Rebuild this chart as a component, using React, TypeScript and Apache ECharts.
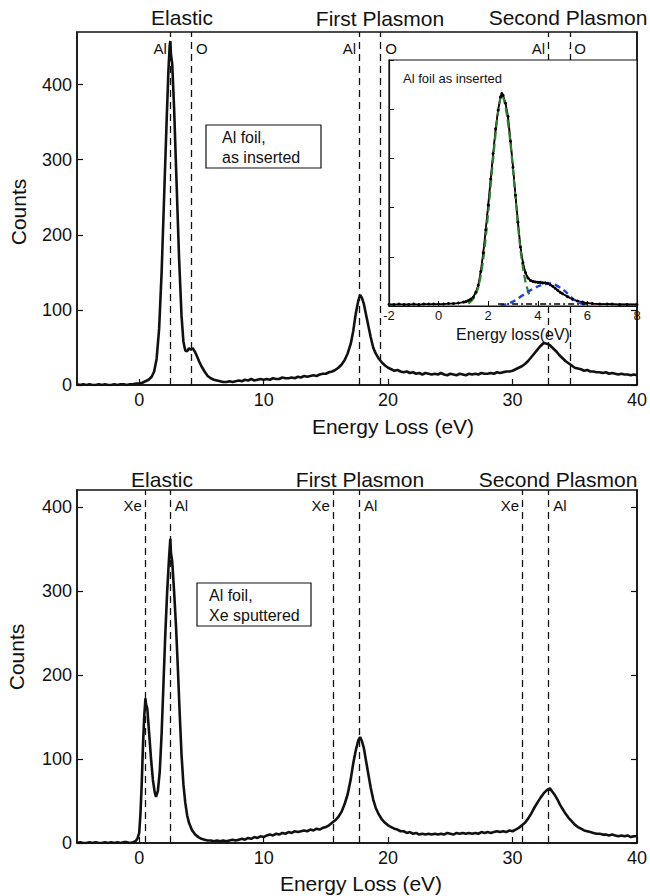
import React, { useEffect, useRef } from 'react';
import * as echarts from 'echarts';

// ---------- data ----------
const topSpectrum: [number, number][] = [
  [-5, 1], [-4.75, 0], [-4.5, 1], [-4.25, 0], [-4, 1], [-3.75, 0], [-3.5, 0], [-3.25, 1], [-3, 0], [-2.75, 1],
  [-2.5, 0], [-2.25, 0], [-2, 1], [-1.75, 0], [-1.5, 1], [-1.25, 1], [-1, 0], [-0.75, 1], [-0.5, 1], [-0.25, 2],
  [0, 2], [0.25, 3], [0.5, 5], [0.75, 7], [1.0, 11], [1.2, 18], [1.4, 35], [1.6, 75], [1.8, 150], [2.0, 250],
  [2.2, 350], [2.35, 420], [2.45, 452], [2.5, 458], [2.55, 440], [2.65, 428], [2.8, 370], [3.0, 270], [3.2, 170],
  [3.4, 92], [3.55, 58], [3.7, 46], [3.85, 45], [4.0, 49], [4.15, 47], [4.3, 49], [4.45, 45], [4.6, 40], [4.8, 32],
  [5.0, 25], [5.25, 18], [5.5, 12], [5.75, 9], [6.0, 7], [6.25, 6], [6.5, 5], [6.75, 4], [7, 4], [7.25, 5], [7.5, 4],
  [7.75, 5], [8, 6], [8.25, 5], [8.5, 7], [8.75, 6], [9, 8], [9.25, 6], [9.5, 7], [9.75, 8], [10, 7], [10.25, 8],
  [10.5, 7], [10.75, 9], [11, 8], [11.25, 8], [11.5, 10], [11.75, 9], [12, 9], [12.25, 10], [12.5, 9], [12.75, 11],
  [13, 10], [13.25, 12], [13.5, 11], [13.75, 12], [14, 13], [14.25, 12], [14.5, 14], [14.75, 15], [15, 15],
  [15.25, 17], [15.5, 18], [15.75, 20], [16, 23], [16.25, 27], [16.5, 33], [16.75, 42], [17, 55], [17.2, 72],
  [17.4, 95], [17.6, 112], [17.75, 120], [17.9, 116], [18.05, 108], [18.2, 96], [18.4, 80], [18.6, 64], [18.8, 50],
  [19, 42], [19.25, 35], [19.5, 30], [19.75, 26], [20, 23], [20.25, 21], [20.5, 19], [20.75, 20], [21, 18],
  [21.25, 17], [21.5, 18], [21.75, 16], [22, 17], [22.25, 15], [22.5, 16], [22.75, 14], [23, 16], [23.25, 15],
  [23.5, 14], [23.75, 15], [24, 14], [24.25, 16], [24.5, 14], [24.75, 13], [25, 15], [25.25, 14], [25.5, 13],
  [25.75, 15], [26, 14], [26.25, 13], [26.5, 15], [26.75, 14], [27, 15], [27.25, 14], [27.5, 16], [27.75, 15],
  [28, 15], [28.25, 16], [28.5, 15], [28.75, 17], [29, 16], [29.25, 17], [29.5, 18], [29.75, 18], [30, 19],
  [30.25, 21], [30.5, 23], [30.75, 25], [31, 28], [31.25, 32], [31.5, 37], [31.75, 42], [32, 47], [32.25, 52],
  [32.5, 56], [32.75, 55], [33, 53], [33.25, 49], [33.5, 45], [33.75, 40], [34, 36], [34.25, 32], [34.5, 29],
  [34.75, 26], [35, 23], [35.25, 22], [35.5, 21], [35.75, 19], [36, 20], [36.25, 18], [36.5, 18], [36.75, 17],
  [37, 17], [37.25, 16], [37.5, 17], [37.75, 15], [38, 16], [38.25, 15], [38.5, 14], [38.75, 15], [39, 14],
  [39.25, 14], [39.5, 13], [39.75, 14], [40, 13],
];

const bottomSpectrum: [number, number][] = [
  [-5, 0], [-4.75, 1], [-4.5, 0], [-4.25, 0], [-4, 1], [-3.75, 0], [-3.5, 1], [-3.25, 0], [-3, 0], [-2.75, 1],
  [-2.5, 0], [-2.25, 1], [-2, 0], [-1.75, 1], [-1.5, 0], [-1.25, 1], [-1, 1], [-0.75, 0], [-0.5, 1], [-0.3, 2],
  [-0.15, 5], [0, 12], [0.1, 35], [0.2, 70], [0.3, 115], [0.4, 150], [0.5, 172], [0.55, 165], [0.65, 160],
  [0.8, 130], [0.95, 100], [1.1, 75], [1.25, 60], [1.35, 55], [1.5, 62], [1.65, 85], [1.8, 130], [1.95, 190],
  [2.1, 250], [2.25, 300], [2.4, 340], [2.5, 362], [2.55, 345], [2.65, 335], [2.8, 300], [2.95, 260], [3.1, 210],
  [3.25, 155], [3.4, 105], [3.55, 70], [3.7, 48], [3.85, 33], [4.0, 24], [4.25, 15], [4.5, 10], [4.75, 7], [5, 5],
  [5.25, 4], [5.5, 3], [5.75, 3], [6, 2], [6.25, 3], [6.5, 2], [6.75, 3], [7, 2], [7.25, 3], [7.5, 4], [7.75, 3],
  [8, 4], [8.25, 5], [8.5, 4], [8.75, 6], [9, 5], [9.25, 7], [9.5, 6], [9.75, 8], [10, 7], [10.25, 9], [10.5, 10],
  [10.75, 9], [11, 11], [11.25, 10], [11.5, 12], [11.75, 11], [12, 13], [12.25, 12], [12.5, 14], [12.75, 13],
  [13, 14], [13.25, 15], [13.5, 14], [13.75, 16], [14, 15], [14.25, 17], [14.5, 16], [14.75, 18], [15, 19],
  [15.25, 21], [15.5, 24], [15.75, 27], [16, 31], [16.25, 37], [16.5, 46], [16.75, 58], [17, 76], [17.2, 95],
  [17.4, 110], [17.6, 122], [17.75, 126], [17.9, 121], [18.05, 113], [18.2, 100], [18.4, 83], [18.6, 66],
  [18.8, 52], [19, 42], [19.25, 34], [19.5, 28], [19.75, 24], [20, 21], [20.25, 19], [20.5, 17], [20.75, 16],
  [21, 14], [21.25, 14], [21.5, 12], [21.75, 13], [22, 11], [22.25, 12], [22.5, 10], [22.75, 11], [23, 10],
  [23.25, 11], [23.5, 10], [23.75, 11], [24, 10], [24.25, 11], [24.5, 10], [24.75, 12], [25, 11], [25.25, 10],
  [25.5, 12], [25.75, 11], [26, 12], [26.25, 11], [26.5, 12], [26.75, 11], [27, 12], [27.25, 11], [27.5, 13],
  [27.75, 12], [28, 13], [28.25, 12], [28.5, 13], [28.75, 14], [29, 13], [29.25, 14], [29.5, 13], [29.75, 15],
  [30, 14], [30.25, 16], [30.5, 18], [30.75, 21], [31, 24], [31.25, 29], [31.5, 35], [31.75, 42], [32, 48],
  [32.25, 54], [32.5, 59], [32.75, 63], [33, 65], [33.2, 61], [33.4, 57], [33.6, 52], [33.8, 46], [34, 41],
  [34.25, 35], [34.5, 30], [34.75, 26], [35, 22], [35.25, 19], [35.5, 17], [35.75, 15], [36, 14], [36.25, 13],
  [36.5, 12], [36.75, 11], [37, 11], [37.25, 10], [37.5, 10], [37.75, 9], [38, 10], [38.25, 9], [38.5, 8],
  [38.75, 9], [39, 8], [39.25, 9], [39.5, 7], [39.75, 8], [40, 8],
];

// inset (Al foil as inserted, elastic region)
const insetData: [number, number][] = [
  [-2, 3], [-1.8, 3], [-1.6, 4], [-1.4, 3], [-1.2, 3], [-1, 4], [-0.8, 3], [-0.6, 4], [-0.4, 4], [-0.2, 4],
  [0, 4], [0.2, 4], [0.4, 5], [0.6, 5], [0.8, 6], [1.0, 8], [1.1, 9], [1.2, 11], [1.3, 14], [1.4, 18], [1.5, 28],
  [1.6, 42], [1.7, 70], [1.8, 108], [1.9, 155], [2.0, 205], [2.1, 258], [2.2, 310], [2.3, 360], [2.4, 398],
  [2.5, 425], [2.55, 432], [2.6, 428], [2.7, 412], [2.8, 385], [2.9, 335], [3.0, 282], [3.1, 225], [3.2, 170],
  [3.3, 120], [3.4, 88], [3.5, 68], [3.6, 57], [3.7, 52], [3.8, 50], [3.9, 49], [4.0, 48], [4.1, 48], [4.2, 47],
  [4.3, 47], [4.4, 46], [4.5, 43], [4.6, 40], [4.7, 36], [4.8, 32], [4.9, 28], [5.0, 25], [5.2, 19], [5.4, 14],
  [5.6, 10], [5.8, 8], [6.0, 6], [6.2, 5], [6.5, 4], [6.8, 4], [7.0, 4], [7.3, 3], [7.6, 3], [8.0, 3],
];
const insetFit: [number, number][] = [
  [1.0, 6], [1.2, 10], [1.4, 19], [1.6, 43], [1.8, 107], [2.0, 204], [2.2, 310], [2.4, 398], [2.55, 431],
  [2.7, 411], [2.9, 334], [3.1, 224], [3.3, 121], [3.5, 68], [3.7, 52], [3.9, 49], [4.1, 48], [4.3, 47],
  [4.5, 43], [4.7, 36], [4.9, 28], [5.1, 22], [5.3, 16], [5.5, 12], [5.8, 8], [6.2, 5], [7.0, 4], [8.0, 3],
];
const insetMainPeak: [number, number][] = [
  [1.2, 5], [1.4, 15], [1.6, 38], [1.8, 95], [2.0, 190], [2.2, 300], [2.4, 395], [2.55, 430], [2.7, 405],
  [2.9, 330], [3.1, 220], [3.3, 115], [3.5, 50], [3.7, 16],
];
const insetOxidePeak: [number, number][] = [
  [2.5, 0], [3.0, 9], [3.6, 29], [4.1, 42], [4.5, 46], [5.05, 32], [5.45, 13], [5.9, 2],
];
const insetBackground: [number, number][] = [
  [2.4, 4], [6.2, 4],
];

// reference energies (eV) of the dashed lines
const topLeftLines = [2.5, 17.7, 32.9];   // Al
const topRightLines = [4.2, 19.4, 34.6];  // O
const bottomLeftLines = [0.5, 15.6, 30.8]; // Xe
const bottomRightLines = [2.5, 17.7, 32.9]; // Al

const mainXTicks = [0, 10, 20, 30, 40];
const mainYTicks = [0, 100, 200, 300, 400];

// ---------- styles ----------
const FONT = '"Liberation Sans", Arial, Helvetica, sans-serif';
const INK = '#111111';
const INSET = { x: 389, y: 60, w: 248, h: 246 };

function mainX(gridIndex: number) {
  return {
    type: 'value', gridIndex, min: -5, max: 40,
    axisLine: { show: true, onZero: false, lineStyle: { color: INK, width: 1.5 } },
    axisTick: { show: true, inside: true, length: 6, customValues: mainXTicks, lineStyle: { color: INK, width: 1.2 } },
    axisLabel: { show: true, customValues: mainXTicks, fontSize: 18, color: INK, fontFamily: FONT, margin: 6 },
    splitLine: { show: false },
  };
}
function mainY(gridIndex: number, max: number, right: boolean) {
  return {
    type: 'value', gridIndex, min: 0, max, position: right ? 'right' : 'left',
    axisLine: { show: true, onZero: false, lineStyle: { color: INK, width: 1.5 } },
    axisTick: { show: true, inside: true, length: 6, customValues: mainYTicks, lineStyle: { color: INK, width: 1.2 } },
    axisLabel: { show: !right, customValues: mainYTicks, fontSize: 18, color: INK, fontFamily: FONT, margin: 5 },
    splitLine: { show: false },
  };
}
function refLines(values: number[]) {
  return {
    silent: true,
    z: 1,
    symbol: ['none', 'none'],
    label: { show: false },
    lineStyle: { type: [7, 5], width: 1.3, color: INK },
    data: values.map((v) => ({ xAxis: v })),
  };
}
function labelSeries(xi: number, yi: number, values: number[], name: string, y: number, left: boolean) {
  return {
    type: 'scatter', xAxisIndex: xi, yAxisIndex: yi, silent: true, symbolSize: 1,
    itemStyle: { color: INK, opacity: 1 },
    data: values.map((v) => ({ value: [v, y], name })),
    label: {
      show: true, position: left ? 'left' : 'right', distance: left ? 3 : 4, formatter: '{b}',
      fontSize: 15, color: INK, fontFamily: FONT, opacity: 1,
    },
  };
}
function txt(text: string, x: number, y: number, size: number, align = 'center', extra: any = {}) {
  return {
    type: 'text', x, y, z: 10, ...extra,
    style: { text, fontSize: size, fontFamily: FONT, fill: INK, textAlign: align, textVerticalAlign: 'middle' },
  };
}

export default function App() {
  const ref = useRef<HTMLDivElement>(null);
  useEffect(() => {
    const chart = echarts.init(ref.current!, undefined, { renderer: 'svg' });
    const option: any = {
      animation: false,
      backgroundColor: '#fff',
      grid: [
        { left: 77, top: 32, width: 565, height: 353, show: true, borderColor: INK, borderWidth: 1.5, backgroundColor: 'transparent' },
        { left: 77, top: 490, width: 565, height: 353, show: true, borderColor: INK, borderWidth: 1.5, backgroundColor: 'transparent' },
        { left: INSET.x, top: INSET.y, width: INSET.w, height: INSET.h, show: false },
      ],
      xAxis: [
        mainX(0),
        mainX(1),
        {
          type: 'value', gridIndex: 2, min: -2, max: 8, interval: 2, z: 5,
          axisLine: { show: true, onZero: false, lineStyle: { color: INK, width: 1.2 } },
          axisTick: { show: true, inside: true, length: 5, lineStyle: { color: INK } },
          axisLabel: { fontSize: 13, color: INK, fontFamily: FONT, margin: 3 },
          splitLine: { show: false },
        },
      ],
      yAxis: [
        mainY(0, 470, false),
        mainY(1, 420, false),
        {
          type: 'value', gridIndex: 2, min: 0, max: 500, interval: 100, z: 5,
          axisLine: { show: true, onZero: false, lineStyle: { color: INK, width: 1.2 } },
          axisTick: { show: true, inside: true, length: 5, lineStyle: { color: INK } },
          axisLabel: { show: false },
          splitLine: { show: false },
        },
        mainY(0, 470, true),
        mainY(1, 420, true),
      ],
      series: [
        {
          type: 'line', xAxisIndex: 0, yAxisIndex: 0, data: topSpectrum, showSymbol: false, silent: true,
          lineStyle: { color: INK, width: 2.6 }, markLine: refLines([...topLeftLines, ...topRightLines]),
        },
        labelSeries(0, 0, topLeftLines, 'Al', 448, true),
        labelSeries(0, 0, topRightLines, 'O', 448, false),
        {
          type: 'line', xAxisIndex: 1, yAxisIndex: 1, data: bottomSpectrum, showSymbol: false, silent: true,
          lineStyle: { color: INK, width: 2.6 }, markLine: refLines([...bottomLeftLines, ...bottomRightLines]),
        },
        labelSeries(1, 1, bottomLeftLines, 'Xe', 402, true),
        labelSeries(1, 1, bottomRightLines, 'Al', 402, false),
        // inset
        {
          type: 'line', xAxisIndex: 2, yAxisIndex: 2, data: insetFit, showSymbol: false, silent: true, z: 4,
          smooth: 0.3, lineStyle: { color: '#e8332a', width: 1.3 },
        },
        {
          type: 'line', xAxisIndex: 2, yAxisIndex: 2, data: insetData, showSymbol: false, silent: true, z: 4,
          lineStyle: { color: '#000', width: 1.8 },
        },
        {
          type: 'line', xAxisIndex: 2, yAxisIndex: 2, data: insetMainPeak, showSymbol: false, silent: true, z: 4,
          smooth: 0.3, lineStyle: { color: '#2f7d32', width: 2.2, type: [8, 4] },
        },
        {
          type: 'line', xAxisIndex: 2, yAxisIndex: 2, data: insetOxidePeak, showSymbol: false, silent: true, z: 4,
          smooth: 0.3, lineStyle: { color: '#1d3fe0', width: 2.4, type: [6, 4] },
        },
        {
          type: 'line', xAxisIndex: 2, yAxisIndex: 2, data: insetBackground, showSymbol: false, silent: true, z: 4,
          lineStyle: { color: '#000', width: 1.6, type: [6, 3, 2, 3] },
        },
        {
          type: 'scatter', xAxisIndex: 2, yAxisIndex: 2, data: insetData, silent: true, z: 4,
          symbol: 'circle', symbolSize: 3, itemStyle: { color: '#000', opacity: 1 },
        },
      ],
      graphic: [
        {
          type: 'rect', z: 3, silent: true,
          shape: { x: INSET.x, y: INSET.y, width: INSET.w, height: INSET.h },
          style: { fill: '#fff', stroke: INK, lineWidth: 1.2 },
        },
        txt('Elastic', 182, 17, 21),
        txt('First Plasmon', 380, 18, 21),
        txt('Second Plasmon', 568, 17, 21),
        txt('Elastic', 162, 479, 21),
        txt('First Plasmon', 360, 479, 21),
        txt('Second Plasmon', 558, 479, 21),
        txt('Energy Loss (eV)', 393, 426, 21),
        txt('Energy Loss (eV)', 361, 883, 21),
        txt('Counts', 18, 212, 21, 'center', { rotation: Math.PI / 2 }),
        txt('Counts', 16, 657, 21, 'center', { rotation: Math.PI / 2 }),
        { type: 'rect', z: 5, shape: { x: 206, y: 125, width: 115, height: 43 }, style: { fill: '#fff', stroke: INK, lineWidth: 1.2 } },
        txt('Al foil,', 222, 137, 16, 'left'),
        txt('as inserted', 222, 157, 16, 'left'),
        { type: 'rect', z: 5, shape: { x: 197, y: 583, width: 114, height: 43 }, style: { fill: '#fff', stroke: INK, lineWidth: 1.2 } },
        txt('Al foil,', 209, 595, 16, 'left'),
        txt('Xe sputtered', 209, 615, 16, 'left'),
        txt('Al foil as inserted', 403, 78, 13, 'left'),
        txt('Energy loss(eV)', 513, 334, 16),
      ],
    };
    chart.setOption(option);
    return () => chart.dispose();
  }, []);
  return <div ref={ref} style={{ position: 'fixed', left: 0, top: 0, width: 650, height: 896, background: '#fff' }} />;
}
